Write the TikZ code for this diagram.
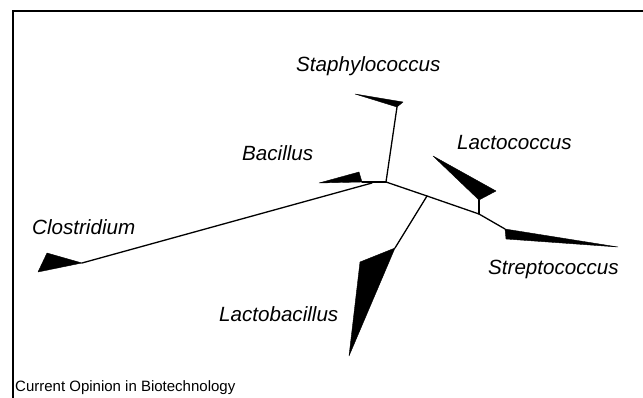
\documentclass[tikz,border=0pt]{standalone}
\usepackage{fontspec}
\setmainfont{Liberation Sans}
\begin{document}
\begin{tikzpicture}[x=1pt,y=-1pt,
  branch/.style={line width=1.3pt,line cap=round,line join=round},
  wedge/.style={fill=black,draw=black,line width=0.4pt,line join=round},
  taxon/.style={inner sep=0pt,anchor=base west,font=\fontsize{20.6}{24}\selectfont\itshape},
  credit/.style={inner sep=0pt,anchor=base west,font=\fontsize{15}{18}\selectfont},
  frameline/.style={line width=1.2pt}]
\useasboundingbox (0,0) rectangle (643,398);
% frame
\coordinate (fTR) at (643,11);
\coordinate (fTL) at (13,11);
\coordinate (fBL) at (13,398);
\draw[frameline] (fTR) -- (fTL) -- (fBL);
% internal nodes
\coordinate (A) at (386,182);
\coordinate (Bc) at (372,183);
\coordinate (B) at (427,196);
\coordinate (C) at (479,214);
% attachment points
\coordinate (staphA) at (397,107);
\coordinate (bacA) at (362,182);
\coordinate (closA) at (82,263);
\coordinate (lbA) at (395,248);
\coordinate (lcA) at (479,200);
\coordinate (strA) at (505,229);
% branches
\draw[branch] (A) -- (staphA);
\draw[branch] (A) -- (bacA);
\draw[branch] (Bc) -- (closA);
\draw[branch] (A) -- (B) -- (C);
\draw[branch] (B) -- (lbA);
\draw[branch] (C) -- (lcA);
\draw[branch] (C) -- (strA);
% wedges
\filldraw[wedge] (355,94) -- (403,102) -- (staphA) -- cycle;
\filldraw[wedge] (319,183) -- (359,172) -- (bacA) -- cycle;
\filldraw[wedge] (47,253) -- (38,272) -- (closA) -- cycle;
\filldraw[wedge] (lbA) -- (360,262) -- (349,356) -- cycle;
\filldraw[wedge] (433,156) -- (496,191) -- (lcA) -- cycle;
\filldraw[wedge] (strA) -- (506,239) -- (618,247) -- cycle;
% labels
\node[taxon] (staph) at (296,71.5) {Staphylococcus};
\node[taxon] (bac) at (242,161) {Bacillus};
\node[taxon] (lc) at (457,150) {Lactococcus};
\node[taxon] (clos) at (32,234.5) {Clostridium};
\node[taxon] (str) at (488,275) {Streptococcus};
\node[taxon] (lb) at (219,322) {Lactobacillus};
\node[credit] (cred) at (15,391.5) {Current Opinion in Biotechnology};
\end{tikzpicture}
\end{document}
